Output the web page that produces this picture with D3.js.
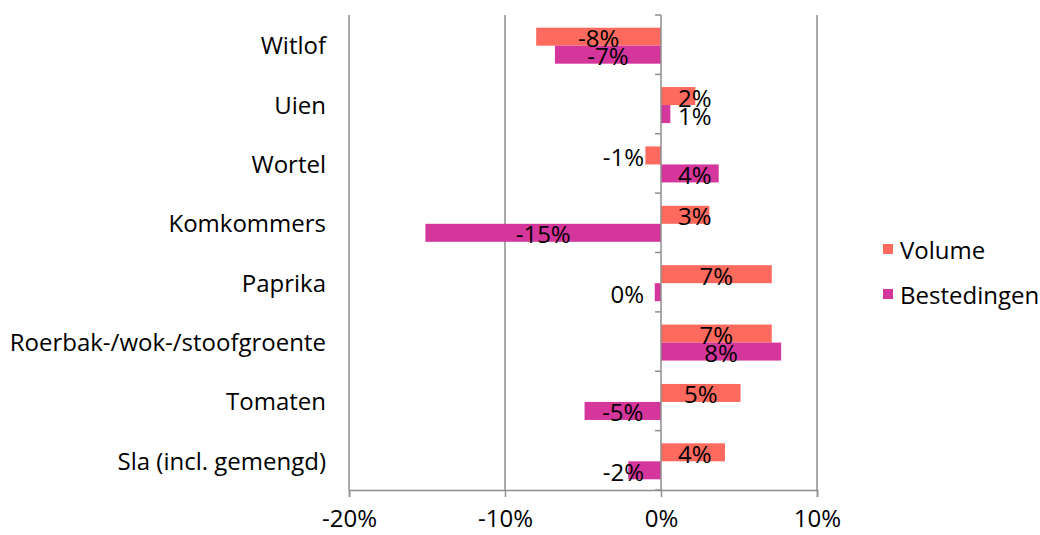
<!DOCTYPE html>
<html lang="nl">
<head>
<meta charset="UTF-8">
<title>Volume en bestedingen</title>
<style>
  body { margin: 0; background: #fff; }
  text { font-family: "Open Sans", Lato, sans-serif; fill: #000; }
</style>
</head>
<body>
<svg id="svg" width="1040" height="535"></svg>
<script src="https://d3js.org/d3.v7.min.js"></script>
<script>
// data (percent change)
const categories = ['Witlof', 'Uien', 'Wortel', 'Komkommers', 'Paprika',
  'Roerbak-/wok-/stoofgroente', 'Tomaten', 'Sla (incl. gemengd)']
const volume = [-8.0, 2.2, -1.0, 3.1, 7.1, 7.1, 5.1, 4.1]
const bestedingen = [-6.8, 0.6, 3.7, -15.1, -0.4, 7.7, -4.9, -2.1]
const seriesNames = ['Volume', 'Bestedingen']
const colors = ['#ff6a5f', '#d4369c']
const xTicks = [-20, -10, 0, 10]

const svg = d3.select('#svg')
const plotTop = 15, plotBottom = 490
const fontSize = '24px'

const x = d3.scaleLinear().domain([-20, 10]).range([349, 817])
const y = d3.scaleBand().domain(categories).range([plotTop, plotBottom])
const yInner = d3.scaleBand().domain(seriesNames).range([0, 36])

const grid = '#8e8e8e'

// vertical gridlines
svg.append('g')
  .selectAll('line')
  .data(xTicks.filter(d => d !== 0))
  .enter().append('line')
  .attr('x1', d => x(d)).attr('x2', d => x(d))
  .attr('y1', plotTop).attr('y2', plotBottom)
  .attr('stroke', grid).attr('stroke-width', 1.5)

// bottom axis
const xAxis = d3.axisBottom(x)
  .tickValues(xTicks)
  .tickFormat(d => d + '%')
  .tickSize(7)
  .tickPadding(13)
const gx = svg.append('g')
  .attr('transform', `translate(0,${plotBottom})`)
  .call(xAxis)
gx.select('.domain').attr('stroke', grid).attr('stroke-width', 1.5)
gx.selectAll('.tick line').attr('stroke', grid).attr('stroke-width', 1.5)
gx.selectAll('.tick text').style('font-size', fontSize).attr('fill', '#000')
  .style('font-family', '"Open Sans", sans-serif')

// bars
const rows = categories.map((c, i) => ({ cat: c, vals: [volume[i], bestedingen[i]] }))
const groups = svg.append('g')
  .selectAll('g')
  .data(rows)
  .enter().append('g')
  .attr('transform', d => `translate(0,${y(d.cat) + (y.bandwidth() - 36) / 2 + 1})`)

groups.selectAll('rect')
  .data(d => d.vals.map((v, j) => ({ v, s: seriesNames[j], j })))
  .enter().append('rect')
  .attr('x', d => x(Math.min(0, d.v)))
  .attr('width', d => Math.abs(x(d.v) - x(0)))
  .attr('y', d => yInner(d.s))
  .attr('height', yInner.bandwidth())
  .attr('fill', d => colors[d.j])

// zero axis with category ticks
svg.append('line')
  .attr('x1', x(0)).attr('x2', x(0))
  .attr('y1', plotTop).attr('y2', plotBottom)
  .attr('stroke', grid).attr('stroke-width', 1.5)
svg.append('g')
  .selectAll('line')
  .data(d3.range(categories.length + 1))
  .enter().append('line')
  .attr('x1', x(0) - 6).attr('x2', x(0))
  .attr('y1', i => plotTop + i * y.step()).attr('y2', i => plotTop + i * y.step())
  .attr('stroke', grid).attr('stroke-width', 1.5)

// data labels
groups.selectAll('text')
  .data(d => d.vals.map((v, j) => ({ v, s: seriesNames[j], j })))
  .enter().append('text')
  .text(d => Math.round(d.v) + '%')
  .style('font-size', fontSize)
  .attr('text-anchor', 'middle')
  .attr('dominant-baseline', 'central')
  .attr('y', d => yInner(d.s) + yInner.bandwidth() / 2 + 1)
  .attr('x', function (d) {
    const w = this.getComputedTextLength()
    const c = (x(0) + x(d.v)) / 2
    return d.v >= 0 ? Math.max(c, x(0) + 17 + w / 2) : Math.min(c, x(0) - 17 - w / 2)
  })

// category labels
svg.append('g')
  .selectAll('text')
  .data(categories)
  .enter().append('text')
  .text(d => d)
  .attr('x', 326)
  .attr('y', d => y(d) + y.bandwidth() / 2)
  .attr('text-anchor', 'end')
  .attr('dominant-baseline', 'central')
  .style('font-size', fontSize)

// legend
const legend = svg.append('g')
  .selectAll('g')
  .data(seriesNames)
  .enter().append('g')
  .attr('transform', (d, i) => `translate(883,${249 + i * 45})`)
legend.append('rect')
  .attr('x', 0).attr('y', -5)
  .attr('width', 10).attr('height', 10)
  .attr('fill', (d, i) => colors[i])
legend.append('text')
  .text(d => d)
  .attr('x', 17)
  .attr('dominant-baseline', 'central')
  .style('font-size', fontSize)
</script>
</body>
</html>
